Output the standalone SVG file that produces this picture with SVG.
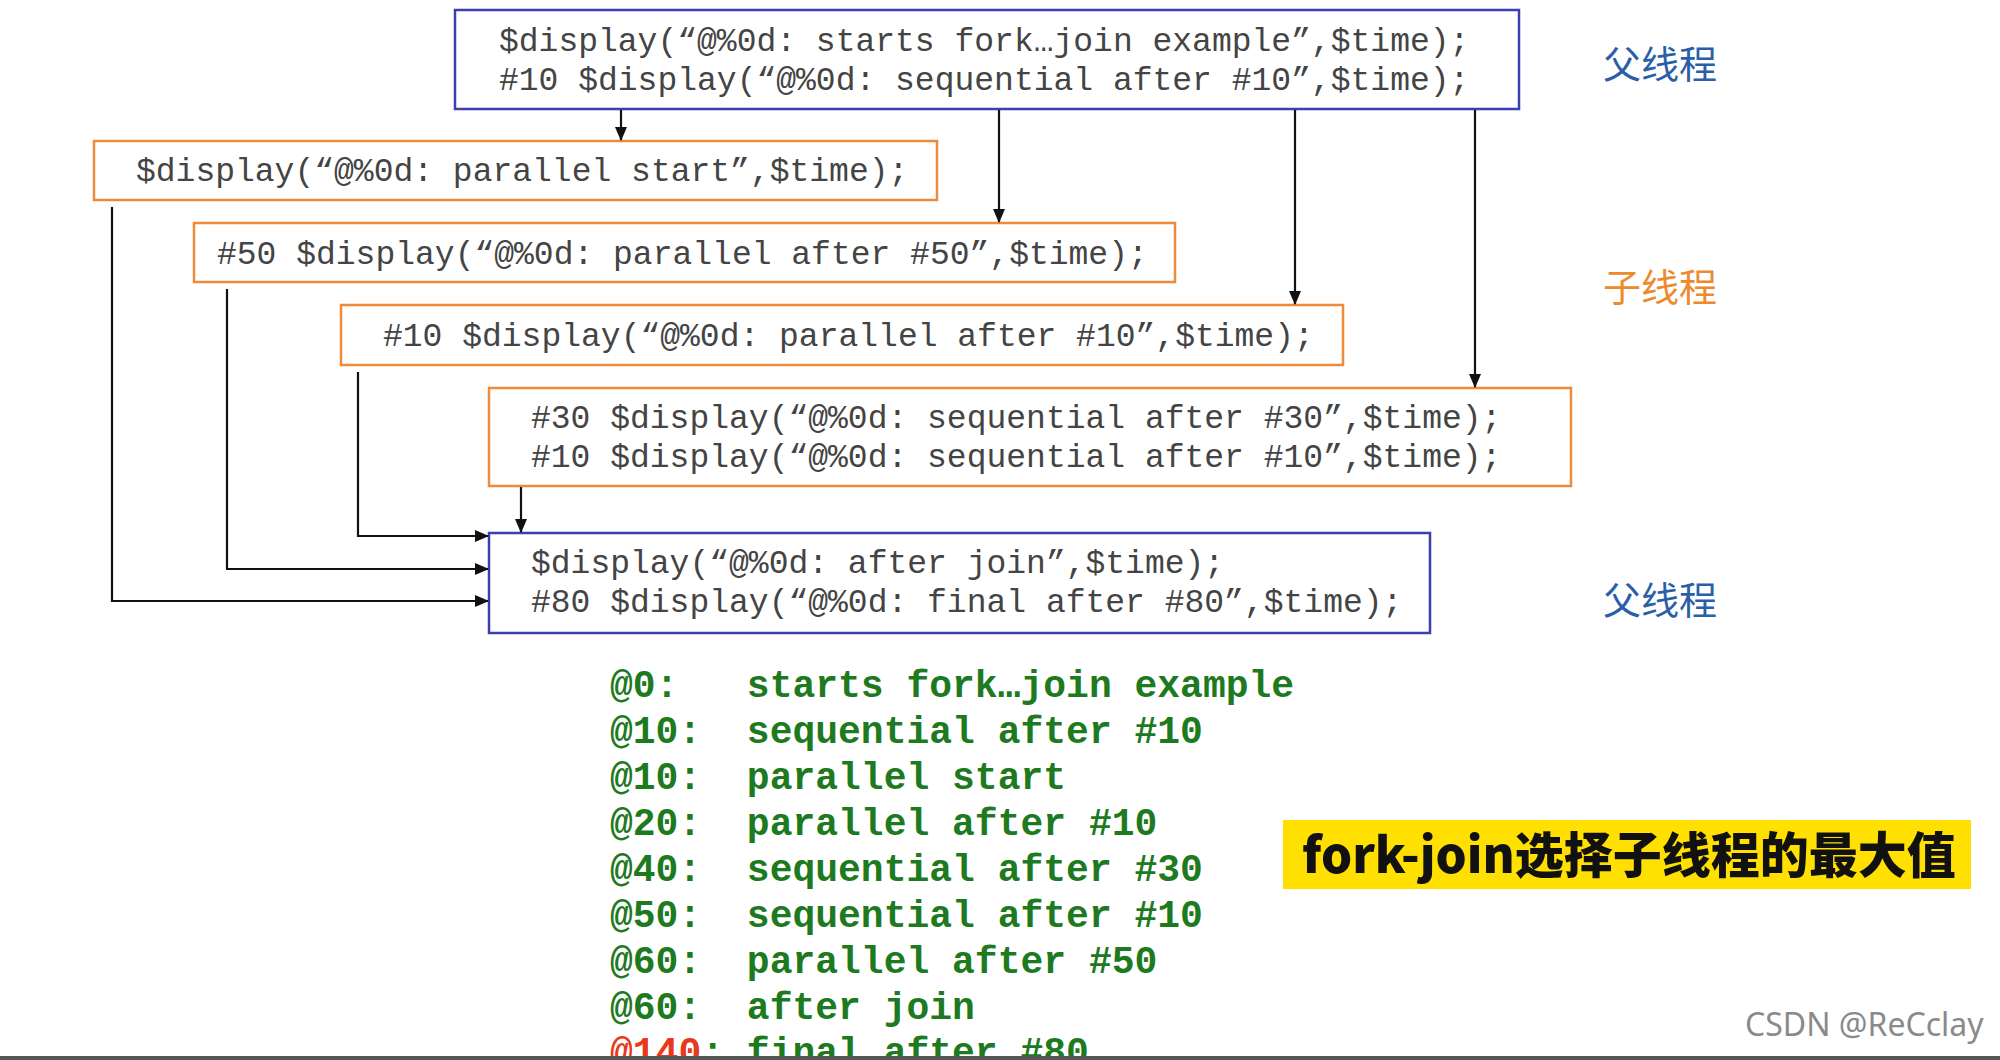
<svg xmlns="http://www.w3.org/2000/svg" width="2000" height="1060" viewBox="0 0 2000 1060">
<defs>
<marker id="ah" markerWidth="14" markerHeight="12" refX="13" refY="6" orient="auto" markerUnits="userSpaceOnUse"><path d="M0,0 L14,6 L0,12 Z" fill="#111"/></marker>
<style>
.blue{fill:#fff;stroke:#3b3fb0;stroke-width:2.5}
.orange{fill:#fff;stroke:#ef8a3a;stroke-width:2.5}
.code{font-family:"Liberation Mono",monospace;font-size:33px;fill:#444}
.out{font-family:"Liberation Mono",monospace;font-size:38px;font-weight:bold;fill:#1e7a1e}
.lbl{font-family:"Noto Sans CJK SC",sans-serif;font-size:38px}
.conn path{fill:none;stroke:#111;stroke-width:2.2;marker-end:url(#ah)}
</style>
</defs>
<rect width="2000" height="1060" fill="#fff"/>
<g id="parent-top">
<rect class="blue" x="455" y="10" width="1064" height="99"/>
<text class="code" x="499" y="51">$display(“@%0d: starts fork…join example”,$time);</text>
<text class="code" x="499" y="90">#10 $display(“@%0d: sequential after #10”,$time);</text>
</g>
<g id="child1">
<rect class="orange" x="94" y="141" width="843" height="59"/>
<text class="code" x="136" y="181">$display(“@%0d: parallel start”,$time);</text>
</g>
<g id="child2">
<rect class="orange" x="194" y="223" width="981" height="59"/>
<text class="code" x="217" y="264">#50 $display(“@%0d: parallel after #50”,$time);</text>
</g>
<g id="child3">
<rect class="orange" x="341" y="305" width="1002" height="60"/>
<text class="code" x="383" y="346">#10 $display(“@%0d: parallel after #10”,$time);</text>
</g>
<g id="child4">
<rect class="orange" x="489" y="388" width="1082" height="98"/>
<text class="code" x="531" y="428">#30 $display(“@%0d: sequential after #30”,$time);</text>
<text class="code" x="531" y="467">#10 $display(“@%0d: sequential after #10”,$time);</text>
</g>
<g id="parent-bottom">
<rect class="blue" x="489" y="533" width="941" height="100"/>
<text class="code" x="531" y="573">$display(“@%0d: after join”,$time);</text>
<text class="code" x="531" y="612">#80 $display(“@%0d: final after #80”,$time);</text>
</g>
<g id="connectors" class="conn">
<path d="M621,110 V140"/>
<path d="M999,110 V222"/>
<path d="M1295,110 V304"/>
<path d="M1475,110 V387"/>
<path d="M521,487 V532"/>
<path d="M358,372 V536 H488"/>
<path d="M227,289 V569 H488"/>
<path d="M112,207 V601 H488"/>
</g>
<g id="label-parent1"><text class="lbl" x="1603" y="78" fill="#2a5ea8">父线程</text></g>
<g id="label-child"><text class="lbl" x="1603" y="301" fill="#ec8a2e">子线程</text></g>
<g id="label-parent2"><text class="lbl" x="1603" y="614" fill="#2a5ea8">父线程</text></g>
<g id="output">
<text class="out" x="610" y="697" xml:space="preserve">@0:   starts fork…join example</text>
<text class="out" x="610" y="743" xml:space="preserve">@10:  sequential after #10</text>
<text class="out" x="610" y="789" xml:space="preserve">@10:  parallel start</text>
<text class="out" x="610" y="835" xml:space="preserve">@20:  parallel after #10</text>
<text class="out" x="610" y="881" xml:space="preserve">@40:  sequential after #30</text>
<text class="out" x="610" y="927" xml:space="preserve">@50:  sequential after #10</text>
<text class="out" x="610" y="973" xml:space="preserve">@60:  parallel after #50</text>
<text class="out" x="610" y="1019" xml:space="preserve">@60:  after join</text>
<text class="out" x="610" y="1064" xml:space="preserve"><tspan fill="#e8381e">@140</tspan>: final after #80</text>
</g>
<g id="note">
<rect x="1283" y="820" width="688" height="69" fill="#ffe000"/>
<text x="1302" y="873" font-family="'Noto Sans CJK SC',sans-serif" font-weight="900" font-size="49" fill="#111">fork-join选择子线程的最大值</text>
</g>
<text x="1745" y="1036" font-family="'Noto Sans',sans-serif" font-size="32" fill="#8a8a8a">CSDN @ReCclay</text>
<rect x="0" y="1056" width="2000" height="4" fill="#555"/>
</svg>
